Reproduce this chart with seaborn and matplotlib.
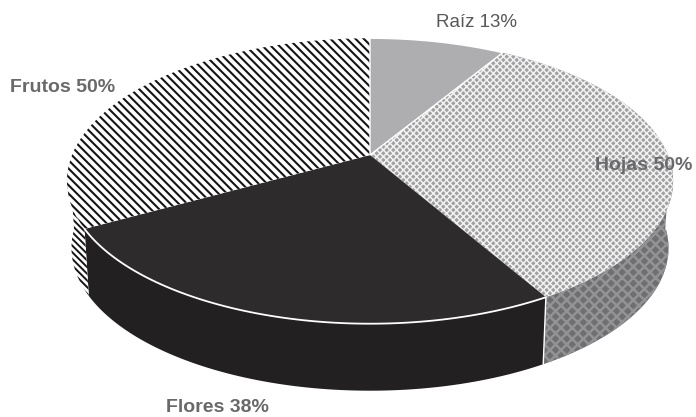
import numpy as np
import matplotlib
matplotlib.use("Agg")
import matplotlib.pyplot as plt
import seaborn as sns
from matplotlib.patches import Polygon, Wedge
from matplotlib.transforms import Transform

categories = ["Raíz", "Hojas", "Flores", "Frutos"]
values = [13, 50, 38, 50]

top_colors = ["#aeaeb1", "#a0a0a2", "#2d2b2c", "#ffffff"]
hatch_colors = ["#aeaeb1", "#f2f2f2", "#2d2b2c", "#151515"]
hatches = [None, "xxxxx", None, "\\\\\\\\"]
hatch_widths = [1.0, 1.1, 1.0, 1.5]
side_colors = ["#8a8a8c", "#6f6f72", "#232021", "#ffffff"]
side_hatch_colors = ["#8a8a8c", "#939395", "#232021", "#151515"]
side_hatches = [None, "xxx", None, "\\\\\\\\\\"]
side_hatch_widths = [1.0, 1.8, 1.0, 1.4]

label_pos = [(477, 22), (644, 165), (217, 408), (63, 87)]
label_weight = ["normal", "bold", "bold", "bold"]
label_color = ["#58585a", "#69696b", "#69696b", "#69696b"]

CX, CY, A, B, K = 370.0, 155.0, 298.0, 138.0, 0.182
DEPTH, SHRINK = 67.0, 0.985


def project(xy):
    xy = np.asarray(xy, dtype=float)
    x, y = xy[..., 0], xy[..., 1]
    w = 1 + K * y
    return np.stack([CX + A * x / w, CY - B * y / w], axis=-1)


class Perspective(Transform):
    input_dims = output_dims = 2
    is_separable = False
    has_inverse = False

    def transform_non_affine(self, values):
        return project(values)


def hatch_width(patch, width):
    if hasattr(patch, "set_hatch_linewidth"):
        patch.set_hatch_linewidth(width)
    else:
        patch._hatch_linewidth = width


sns.set_theme(style="white")
plt.rcParams["font.family"] = ["Liberation Sans", "DejaVu Sans"]

fig = plt.figure(figsize=(6.96, 4.17), dpi=100)
ax = fig.add_axes([0, 0, 1, 1])

wedges, _ = ax.pie(values, startangle=90, counterclock=False, radius=1.0)
ax.set_aspect("auto")
ax.set_xlim(0, 696)
ax.set_ylim(417, 0)
ax.axis("off")
persp = Perspective() + ax.transData

# Extruded rim: only the near part of each wedge is visible.
for i, w in enumerate(wedges):
    for a, b in [(max(w.theta1, 183), min(w.theta2, 357)),
                 (max(w.theta1 - 360, 183), min(w.theta2 - 360, 357)),
                 (max(w.theta1 + 360, 183), min(w.theta2 + 360, 357))]:
        if b <= a:
            continue
        t = np.radians(np.linspace(a, b, 80))
        rim = project(np.column_stack([np.cos(t), np.sin(t)]))
        low = rim.copy()
        low[:, 0] = CX + (rim[:, 0] - CX) * SHRINK
        low[:, 1] = rim[:, 1] + DEPTH
        poly = Polygon(np.vstack([rim, low[::-1]]), closed=True,
                       facecolor=side_colors[i], edgecolor=side_hatch_colors[i],
                       hatch=side_hatches[i], linewidth=0, zorder=1)
        hatch_width(poly, side_hatch_widths[i])
        ax.add_patch(poly)
        if categories[i] == "Hojas":
            ax.plot([rim[-1, 0], low[-1, 0]], [rim[-1, 1], low[-1, 1]],
                    color="white", lw=1.0, zorder=1.5)
            ax.plot([rim[0, 0], low[0, 0]], [rim[0, 1], low[0, 1]],
                    color="white", lw=1.0, zorder=1.5)
        if categories[i] == "Flores":
            ax.plot(rim[:, 0], rim[:, 1], color="white", lw=1.3, zorder=3)

# Top face: pie wedges sent through the perspective.
for i, w in enumerate(wedges):
    w.set_transform(persp)
    w.set_facecolor(top_colors[i])
    w.set_edgecolor(hatch_colors[i])
    w.set_hatch(hatches[i])
    hatch_width(w, hatch_widths[i])
    w.set_linewidth(0)
    w.set_zorder(2)
    if categories[i] == "Raíz":
        outline = Wedge((0, 0), 1.0, w.theta1, w.theta2, fill=False,
                        edgecolor="white", linewidth=1.0, zorder=3, transform=persp)
        ax.add_patch(outline)

for name, v, pos, wt, col in zip(categories, values, label_pos, label_weight, label_color):
    ax.text(pos[0], pos[1], f"{name} {v}%", ha="center", va="center",
            fontsize=14 if wt == "bold" else 13.5, fontweight=wt, color=col, zorder=5)

fig.savefig("out.png", dpi=100, facecolor="white")
